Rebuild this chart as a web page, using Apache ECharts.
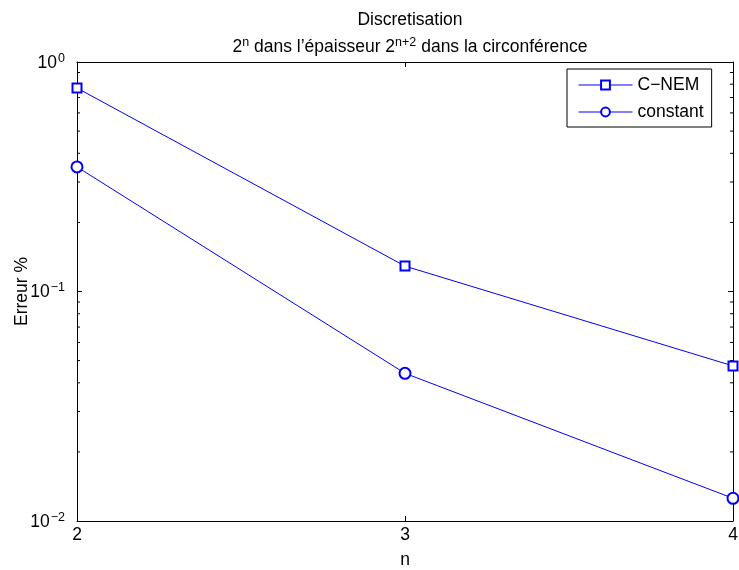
<!DOCTYPE html>
<html><head><meta charset="utf-8">
<script src="https://cdn.jsdelivr.net/npm/echarts@6/dist/echarts.min.js"></script>
<style>html,body{margin:0;padding:0;background:#fff}#c{width:739px;height:570px}</style>
</head><body><div id="c"></div>
<script>
const nValues = [2, 3, 4];
const cnem = [0.77, 0.129, 0.0474];
const constant = [0.349, 0.044, 0.01256];
const seriesNames = ['C−NEM', 'constant'];
const yMin = 0.01, yMax = 1;
const minorMultipliers = [2, 3, 4, 5, 6, 7, 8, 9];
const minorTicks = [];
for (const d of [0.01, 0.1]) for (const m of minorMultipliers) minorTicks.push(d * m);

const FONT = 'Liberation Sans, Arial, Helvetica, sans-serif';
const FS = 17.5, SFS = 12.5;
const chart = echarts.init(document.getElementById('c'));
const supLabel = v => {
  const e = Math.round(Math.log10(v));
  return '{b|10}{s|' + (e < 0 ? '−' + (-e) : e) + '}';
};
const richSup = {
  b: {fontSize: FS, fontFamily: FONT, color: '#000', fontWeight: 'normal', lineHeight: 20, verticalAlign: 'bottom', padding: [3, 0, 0, 0]},
  s: {fontSize: SFS, fontFamily: FONT, color: '#000', fontWeight: 'normal', lineHeight: 12, verticalAlign: 'top', padding: [0, 0, 0, 1]}
};
chart.setOption({
  animation: false,
  backgroundColor: '#fff',
  title: [
    {text: 'Discretisation', left: 405, top: 4, textAlign: 'center',
     textStyle: {fontSize: FS, fontWeight: 'normal', fontFamily: FONT, color: '#000', lineHeight: 22}},
    {text: '{t|2}{s|n}{t| dans l’épaisseur 2}{s|n+2}{t| dans la circonférence}', left: 405, top: 31, textAlign: 'center',
     textStyle: {fontWeight: 'normal', rich: {
       t: {fontSize: FS, fontFamily: FONT, color: '#000', fontWeight: 'normal', lineHeight: 20, verticalAlign: 'bottom', padding: [3, 0, 0, 0]},
       s: {fontSize: SFS, fontFamily: FONT, color: '#000', fontWeight: 'normal', lineHeight: 12, verticalAlign: 'top'}
     }}}
  ],
  legend: {
    left: 567, top: 69, orient: 'vertical',
    data: seriesNames,
    backgroundColor: '#fff', borderColor: '#000', borderWidth: 1,
    padding: [6, 8, 5, 11], itemWidth: 54, itemHeight: 11, itemGap: 7,
    lineStyle: {width: 1}, itemStyle: {borderWidth: 1},
    textStyle: {fontSize: FS, fontFamily: FONT, color: '#000', lineHeight: 20}
  },
  grid: {left: 77, right: 6, top: 62, bottom: 49, outerBoundsMode: 'none', containLabel: false},
  xAxis: [{
    type: 'value', min: 2, max: 4, interval: 1,
    name: 'n', nameLocation: 'middle', nameGap: 30, nameMoveOverlap: false,
    nameTextStyle: {fontSize: FS, fontFamily: FONT, color: '#000'},
    axisLine: {lineStyle: {color: '#000', width: 1}},
    axisTick: {inside: true, length: 5, lineStyle: {color: '#000'}},
    axisLabel: {fontSize: FS, fontFamily: FONT, color: '#000', margin: 5},
    splitLine: {show: false}
  }, {
    type: 'value', min: 2, max: 4, interval: 1, position: 'top',
    axisLine: {lineStyle: {color: '#000', width: 1}},
    axisTick: {inside: true, length: 5, lineStyle: {color: '#000'}},
    axisLabel: {show: false}, splitLine: {show: false}
  }],
  yAxis: [{
    type: 'log', logBase: 10, min: yMin, max: yMax,
    name: 'Erreur %', nameLocation: 'middle', nameGap: 46, nameMoveOverlap: false,
    nameTextStyle: {fontSize: FS, fontFamily: FONT, color: '#000'},
    axisLine: {lineStyle: {color: '#000', width: 1}},
    axisTick: {inside: true, length: 5, lineStyle: {color: '#000'}},
    axisLabel: {formatter: supLabel, rich: richSup, margin: 12},
    splitLine: {show: false}, minorTick: {show: false}
  }, {
    type: 'log', logBase: 10, min: yMin, max: yMax, position: 'right',
    axisLine: {lineStyle: {color: '#000', width: 1}},
    axisTick: {inside: true, length: 5, lineStyle: {color: '#000'}},
    axisLabel: {show: false}, splitLine: {show: false}
  }],
  series: [
    {name: seriesNames[0], type: 'line', data: nValues.map((n, i) => [n, cnem[i]]),
     symbol: 'emptyRect', symbolSize: 9, color: '#0000ff',
     lineStyle: {width: 1, color: '#0000ff'}, itemStyle: {color: '#0000ff', borderWidth: 1}, clip: false, z: 3},
    {name: seriesNames[1], type: 'line', data: nValues.map((n, i) => [n, constant[i]]),
     symbol: 'emptyCircle', symbolSize: 11, color: '#0000ff',
     lineStyle: {width: 1, color: '#0000ff'}, itemStyle: {color: '#0000ff', borderWidth: 1}, clip: false, z: 3},
    {type: 'custom', silent: true, data: minorTicks.map(v => [2, v]), clip: false,
     renderItem: (params, api) => {
       const y = api.coord([2, api.value(1)])[1];
       const cs = params.coordSys;
       return {type: 'group', children: [
         {type: 'line', shape: {x1: cs.x, y1: y, x2: cs.x + 3, y2: y}, style: {stroke: '#000', lineWidth: 1}},
         {type: 'line', shape: {x1: cs.x + cs.width - 3, y1: y, x2: cs.x + cs.width, y2: y}, style: {stroke: '#000', lineWidth: 1}}
       ]};
     }}
  ]
});
</script></body></html>
